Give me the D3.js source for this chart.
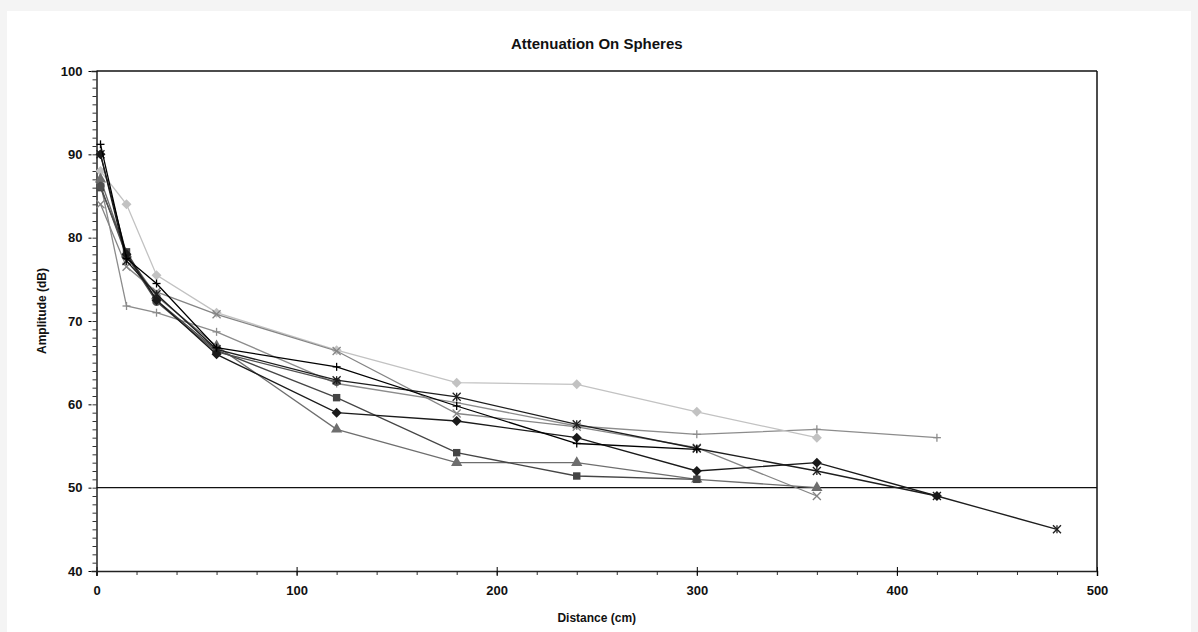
<!DOCTYPE html>
<html>
<head>
<meta charset="utf-8">
<script src="https://cdn.jsdelivr.net/npm/d3@7"></script>
<style>
  body { margin: 0; background: #f4f4f4; }
  svg { display: block; font-family: "Liberation Sans", Arial, sans-serif; }
  .tick text { font-weight: bold; font-size: 13px; fill: #111; }
</style>
</head>
<body>
<svg id="chart"></svg>
<script>
// distances (cm) where the readings were taken
const distances = [2, 15, 30, 60, 120, 180, 240, 300, 360, 420, 480];

// amplitude readings (dB) per sphere, null where nothing was measured
const blackDiamond = [90, 78, 72.5, 66, 59, 58, 56, 52, 53, 49, null];
const darkSquare   = [86, 78.3, 72.5, 66.5, 60.8, 54.2, 51.4, 51, null, null, null];
const grayTriangle = [87, 78, 73, 67, 57, 53, 53, 51, 50, null, null];
const grayCross    = [84, 76.5, 73.5, 70.8, 66.4, 58.9, 57.3, 54.8, 49, null, null];
const blackStar    = [90, 77.2, 73.2, 66.6, 62.9, 60.9, 57.6, 54.7, 52, 49, 45];
const lightDiamond = [88, 84, 75.5, 71, 66.5, 62.6, 62.4, 59.1, 56, null, null];
const blackPlus    = [91.2, 77.5, 74.5, 66.8, 64.5, 59.8, 55.3, 54.6, null, null, null];
const grayPlus     = [86.5, 71.8, 71, 68.7, 62.5, 60.2, 57.4, 56.4, 57, 56, null];
const darkCircle   = [86.2, 77.8, 72.3, 66.3, 62.7, null, null, null, null, null, null];

const yTicks = [40, 50, 60, 70, 80, 90, 100];
const xTicks = [0, 100, 200, 300, 400, 500];

const series = [
    { name: "grayPlus", values: grayPlus, color: "#8c8c8c", shape: "plus" },
    { name: "lightDiamond", values: lightDiamond, color: "#c2c2c2", shape: "diamond" },
    { name: "grayCross", values: grayCross, color: "#858585", shape: "cross" },
    { name: "grayTriangle", values: grayTriangle, color: "#6e6e6e", shape: "triangle" },
    { name: "darkSquare", values: darkSquare, color: "#454545", shape: "square" },
    { name: "darkCircle", values: darkCircle, color: "#505050", shape: "circle" },
    { name: "blackStar", values: blackStar, color: "#1e1e1e", shape: "star" },
    { name: "blackDiamond", values: blackDiamond, color: "#1a1a1a", shape: "diamond" },
    { name: "blackPlus", values: blackPlus, color: "#000000", shape: "plus" }
];

const width = 1198, height = 632;
const margin = { top: 71, right: 101, bottom: 61, left: 96.5 };
const innerW = width - margin.left - margin.right;
const innerH = height - margin.top - margin.bottom;

const svg = d3.select("#chart").attr("width", width).attr("height", height);

// white card over the light grey page
svg.append("rect")
    .attr("x", 7).attr("y", 11)
    .attr("width", 1184).attr("height", height - 11)
    .attr("fill", "#ffffff");

const x = d3.scaleLinear().domain([0, 500]).range([0, innerW]);
const y = d3.scaleLinear().domain([40, 100]).range([innerH, 0]);

const g = svg.append("g").attr("transform", `translate(${margin.left},${margin.top})`);

// minor ticks
g.append("g")
    .attr("transform", `translate(0,${innerH})`)
    .call(d3.axisBottom(x).tickValues(d3.range(0, 501, 20)).tickSize(4).tickFormat(""))
    .call(a => a.select(".domain").remove())
    .selectAll("line").attr("stroke", "#333");
g.append("g")
    .call(d3.axisLeft(y).tickValues(d3.range(40, 101, 1)).tickSize(4).tickFormat(""))
    .call(a => a.select(".domain").remove())
    .selectAll("line").attr("stroke", "#333");

// major axes
const xAxis = g.append("g")
    .attr("transform", `translate(0,${innerH})`)
    .call(d3.axisBottom(x).tickValues(xTicks).tickSize(5).tickPadding(10).tickFormat(d3.format("d")));
xAxis.select(".domain").attr("stroke", "#222").attr("stroke-width", 1.5);
xAxis.selectAll(".tick line").attr("y1", -4);

const yAxis = g.append("g")
    .call(d3.axisLeft(y).tickValues(yTicks).tickSize(5).tickPadding(9).tickFormat(d3.format("d")));
yAxis.select(".domain").attr("stroke", "#222").attr("stroke-width", 1.5);
yAxis.selectAll(".tick line").attr("x1", -8);

// frame top and right
g.append("line").attr("x1", 0).attr("x2", innerW).attr("y1", 0).attr("y2", 0)
    .attr("stroke", "#111").attr("stroke-width", 1.5);
g.append("line").attr("x1", innerW).attr("x2", innerW).attr("y1", 0).attr("y2", innerH)
    .attr("stroke", "#111").attr("stroke-width", 1.5);

// 50 dB reference line
g.append("line").attr("x1", 0).attr("x2", innerW).attr("y1", y(50)).attr("y2", y(50))
    .attr("stroke", "#111").attr("stroke-width", 1.3);

const line = d3.line()
    .defined(d => d.v != null)
    .x(d => x(d.d))
    .y(d => y(d.v));

const symbolFor = {
    square: d3.symbol().type(d3.symbolSquare).size(55),
    triangle: d3.symbol().type(d3.symbolTriangle).size(55),
    circle: d3.symbol().type(d3.symbolCircle).size(55)
};

series.forEach(s => {
    const pts = distances.map((d, i) => ({ d: d, v: s.values[i] })).filter(p => p.v != null);

    g.append("path")
        .datum(pts)
        .attr("fill", "none")
        .attr("stroke", s.color)
        .attr("stroke-width", 1.3)
        .attr("d", line);

    const m = g.append("g").selectAll("g")
        .data(pts)
        .join("g")
        .attr("transform", p => `translate(${x(p.d)},${y(p.v)})`);

    if (s.shape === "diamond") {
        // excel-style diamond: a square turned 45 degrees
        m.append("path").attr("d", "M0,-5L5,0L0,5L-5,0Z").attr("fill", s.color);
    } else if (symbolFor[s.shape]) {
        m.append("path").attr("d", symbolFor[s.shape]()).attr("fill", s.color);
    } else {
        const r = 4;
        const segs = [];
        if (s.shape === "plus" || s.shape === "star") segs.push([0, -r, 0, r]);
        if (s.shape === "plus") segs.push([-r, 0, r, 0]);
        if (s.shape === "cross" || s.shape === "star") segs.push([-r, -r, r, r], [-r, r, r, -r]);
        segs.forEach(sg => {
            m.append("line")
                .attr("x1", sg[0]).attr("y1", sg[1]).attr("x2", sg[2]).attr("y2", sg[3])
                .attr("stroke", s.color).attr("stroke-width", 1.3);
        });
    }
});

// titles
svg.append("text")
    .attr("x", margin.left + innerW / 2).attr("y", 49)
    .attr("text-anchor", "middle")
    .attr("font-weight", "bold").attr("font-size", 15)
    .attr("fill", "#111")
    .text("Attenuation On Spheres");

svg.append("text")
    .attr("x", margin.left + innerW / 2).attr("y", 622)
    .attr("text-anchor", "middle")
    .attr("font-weight", "bold").attr("font-size", 12)
    .attr("fill", "#111")
    .text("Distance (cm)");

svg.append("text")
    .attr("transform", `translate(46,${margin.top + innerH / 2 - 10}) rotate(-90)`)
    .attr("text-anchor", "middle")
    .attr("font-weight", "bold").attr("font-size", 12)
    .attr("fill", "#111")
    .text("Amplitude (dB)");
</script>
</body>
</html>
